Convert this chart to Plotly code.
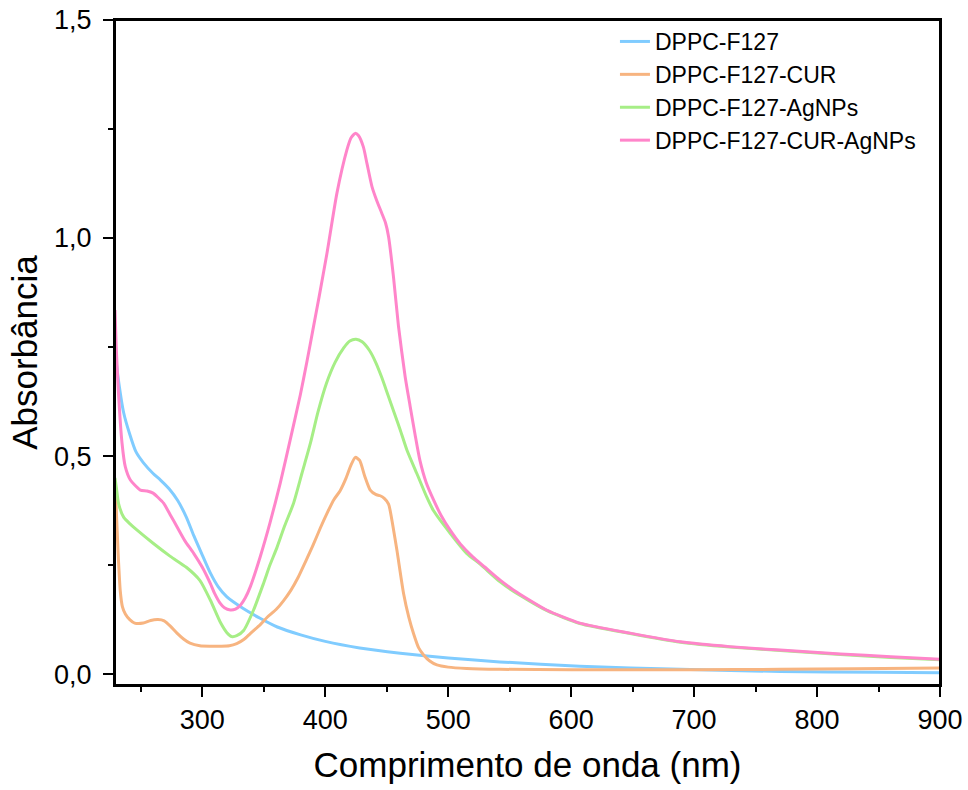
import plotly.graph_objects as go

# DPPC-F127
wl_blue = [229, 232, 236, 241, 246, 252, 260, 266, 273, 280, 287, 293, 300, 306.5, 313, 320, 333, 347, 361,
           380, 400, 428, 461, 500, 542, 607, 689, 770, 850, 900]
abs_blue = [0.74, 0.67, 0.60, 0.55, 0.51, 0.485, 0.46, 0.445, 0.425, 0.398, 0.36, 0.318, 0.273, 0.232, 0.20, 0.177,
            0.151, 0.128, 0.108, 0.090, 0.075, 0.060, 0.048, 0.037, 0.028, 0.018, 0.011, 0.006, 0.004, 0.003]

# DPPC-F127-CUR
wl_orange = [229, 230, 231.5, 233.3, 235, 237.4, 241, 245, 252, 258, 264, 269, 274, 279.4, 285, 290, 298, 306.5,
             315, 322, 328, 334, 339, 347, 353, 360, 366, 372, 378, 384, 390, 396, 402, 407, 412, 417, 421, 424.5,
             428, 432, 436.6, 441, 444.7, 448, 451.5, 455, 458.3, 463.7, 468, 471.8, 476, 480, 485, 490.8,
             500, 515, 542, 600, 700, 770, 830, 900]
abs_orange = [0.43, 0.38, 0.28, 0.19, 0.155, 0.138, 0.125, 0.117, 0.117, 0.123, 0.125, 0.122, 0.11, 0.094, 0.08,
              0.071, 0.065, 0.064, 0.064, 0.065, 0.07, 0.08, 0.093, 0.113, 0.131, 0.148, 0.168, 0.192, 0.222,
              0.258, 0.295, 0.335, 0.372, 0.40, 0.42, 0.45, 0.48, 0.497, 0.49, 0.455, 0.422, 0.412, 0.409, 0.403,
              0.39, 0.34, 0.284, 0.185, 0.13, 0.093, 0.06, 0.044, 0.03, 0.021, 0.016, 0.013, 0.011, 0.010, 0.010,
              0.011, 0.012, 0.014]

# DPPC-F127-AgNPs
wl_green = [229, 230, 232, 236, 241, 247, 260, 274, 287, 298, 306.5, 315, 320, 324, 328, 333.6, 341.7, 349.8,
            355, 360.7, 367, 374, 381, 388, 394, 401, 408, 415, 420, 425, 430, 436, 441, 446, 451, 456, 461,
            466.4, 474.5, 482.7, 488, 501.6, 515, 526, 542, 553, 580, 607, 648, 689, 729, 770, 819, 860, 900]
abs_green = [0.45, 0.43, 0.39, 0.36, 0.345, 0.33, 0.30, 0.27, 0.245, 0.215, 0.17, 0.117, 0.095, 0.086, 0.088,
             0.10, 0.147, 0.208, 0.25, 0.29, 0.34, 0.39, 0.46, 0.53, 0.60, 0.667, 0.715, 0.748, 0.764, 0.768,
             0.762, 0.742, 0.715, 0.68, 0.64, 0.60, 0.56, 0.514, 0.46, 0.405, 0.375, 0.323, 0.277, 0.252,
             0.212, 0.19, 0.146, 0.116, 0.093, 0.073, 0.062, 0.054, 0.045, 0.038, 0.033]

# DPPC-F127-CUR-AgNPs
wl_pink = [229, 230, 231.7, 234.7, 237.4, 241.5, 249.6, 255, 260, 264, 268.5, 274, 279.4, 286, 293, 300, 306.5,
           310, 314.6, 318, 322.8, 327, 331, 335, 339, 347, 355, 363.4, 371.5, 379.7, 385, 390, 395, 401.4,
           409.5, 417.6, 421, 424.4, 427, 431, 434, 438, 442, 446, 449, 451.5, 455.5, 459.6, 465, 469, 473,
           477, 482, 488, 494, 501.6, 510, 520, 530, 542, 553, 580, 607, 648, 689, 729, 770, 819, 860, 900]
abs_pink = [0.835, 0.75, 0.65, 0.53, 0.475, 0.445, 0.422, 0.42, 0.415, 0.405, 0.392, 0.365, 0.338, 0.305, 0.277,
            0.245, 0.208, 0.185, 0.162, 0.152, 0.147, 0.149, 0.158, 0.175, 0.20, 0.268, 0.346, 0.438, 0.537,
            0.64, 0.715, 0.79, 0.865, 0.965, 1.103, 1.202, 1.23, 1.240, 1.235, 1.209, 1.17, 1.118, 1.085,
            1.057, 1.035, 1.003, 0.911, 0.797, 0.682, 0.615, 0.55, 0.49, 0.44, 0.40, 0.365, 0.33, 0.298,
            0.269, 0.245, 0.216, 0.193, 0.147, 0.117, 0.094, 0.074, 0.063, 0.055, 0.046, 0.040, 0.034]

series = [
    ("DPPC-F127", wl_blue, abs_blue, "#80CCFF"),
    ("DPPC-F127-CUR", wl_orange, abs_orange, "#F7B480"),
    ("DPPC-F127-AgNPs", wl_green, abs_green, "#A6EE86"),
    ("DPPC-F127-CUR-AgNPs", wl_pink, abs_pink, "#FF85CA"),
]

fig = go.Figure()
for name, x, y, c in series:
    fig.add_trace(go.Scatter(x=x, y=y, mode="lines", name=name,
                             line=dict(color=c, width=3, shape="spline", smoothing=0.6)))

font_family = "Liberation Sans, Arial, sans-serif"
axis_common = dict(showline=True, linewidth=2, linecolor="black", mirror=True,
                   ticks="outside", ticklen=10, tickwidth=2, tickcolor="black",
                   showgrid=False, zeroline=False, automargin=False,
                   tickfont=dict(family=font_family, size=27, color="black"))

fig.update_layout(
    width=968, height=790,
    margin=dict(l=115, r=28, t=20, b=105),
    paper_bgcolor="white", plot_bgcolor="white",
    separators=",.",
    font=dict(family=font_family, color="black"),
    showlegend=True,
    legend=dict(x=0.606, y=1.0, xanchor="left", yanchor="top",
                font=dict(family=font_family, size=23, color="black"),
                bgcolor="rgba(0,0,0,0)", borderwidth=0, tracegroupgap=0),
    xaxis=dict(range=[229, 900], tickvals=[300, 400, 500, 600, 700, 800, 900],
               ticklabelstandoff=0,
               minor=dict(ticks="outside", ticklen=5, tickwidth=2, tickcolor="black", dtick=50, tick0=250),
               title=dict(text="Comprimento de onda (nm)", font=dict(family=font_family, size=35), standoff=18),
               **axis_common),
    yaxis=dict(range=[-0.025, 1.5], tickvals=[0, 0.5, 1.0, 1.5], tickformat=".1f",
               ticklabelstandoff=6,
               minor=dict(ticks="outside", ticklen=5, tickwidth=2, tickcolor="black", dtick=0.25, tick0=0),
               title=dict(text="Absorbância", font=dict(family=font_family, size=35), standoff=6),
               **axis_common),
    shapes=[dict(type="rect", xref="paper", yref="paper", x0=0, y0=0, x1=1, y1=1,
                 line=dict(color="black", width=2), fillcolor="rgba(0,0,0,0)", layer="above")],
)

# remove the browser's default 8px page margin so the figure sits at the window's corner
fig.write_html("out.html", config={"displayModeBar": False},
               post_script="document.body.style.margin='0';document.body.style.overflow='hidden';")
